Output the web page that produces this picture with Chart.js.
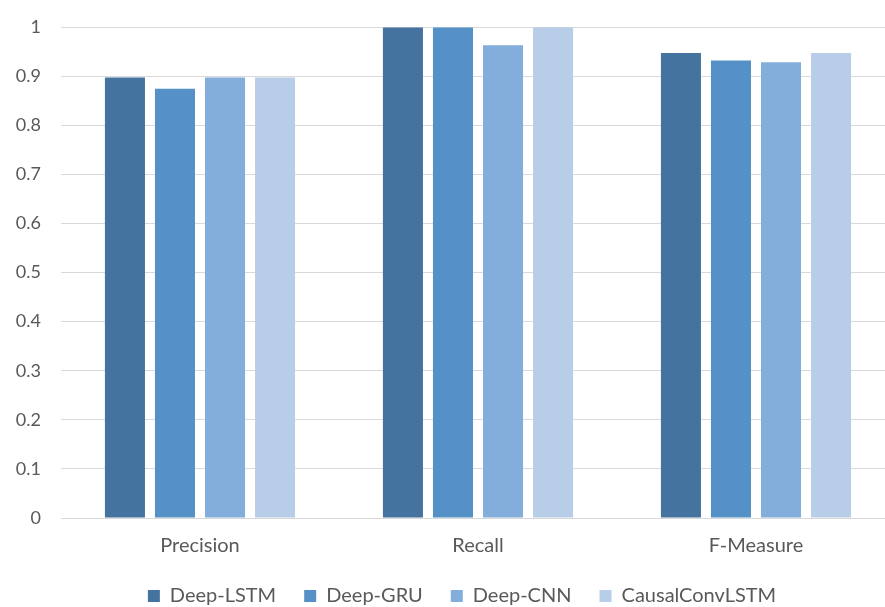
<!DOCTYPE html>
<html>
<head>
<meta charset="utf-8">
<script src="https://cdn.jsdelivr.net/npm/chart.js@4.4.1/dist/chart.umd.min.js"></script>
<style>
  html, body { margin: 0; padding: 0; background: #ffffff; overflow: hidden; }
  #wrap { position: relative; width: 895px; height: 607px; }
</style>
</head>
<body>
<div id="wrap"><canvas id="chart" width="895" height="607"></canvas></div>
<script>
// Metric categories on the x axis
const categories = ['Precision', 'Recall', 'F-Measure'];

// Scores per model, in category order
const deepLSTM = [0.897, 0.999, 0.947];
const deepGRU = [0.874, 0.999, 0.932];
const deepCNN = [0.897, 0.963, 0.928];
const causalConvLSTM = [0.897, 0.999, 0.947];

const seriesNames = ['Deep-LSTM', 'Deep-GRU', 'Deep-CNN', 'CausalConvLSTM'];
const seriesColors = ['#44739F', '#5591C7', '#83AEDB', '#B7CDE8'];

// Value-axis tick labels, 0 to 1 by 0.1
const yTickLabels = ['0', '0.1', '0.2', '0.3', '0.4', '0.5', '0.6', '0.7', '0.8', '0.9', '1'];

const seriesData = [deepLSTM, deepGRU, deepCNN, causalConvLSTM];
const textColor = '#595959';
const gridColor = '#D9D9D9';
const fontFamily = 'Lato, "Open Sans", sans-serif';

// Centre the legend row on the full chart width rather than the canvas
const legendShift = {
  id: 'legendShift',
  afterLayout(chart) {
    if (chart.legend) {
      chart.legend.left = 29;
    }
  }
};

new Chart(document.getElementById('chart'), {
  type: 'bar',
  data: {
    labels: categories,
    datasets: seriesNames.map((name, i) => ({
      label: name,
      data: seriesData[i],
      backgroundColor: seriesColors[i],
      borderWidth: 0,
      categoryPercentage: 0.72,
      barPercentage: 0.8
    }))
  },
  plugins: [legendShift],
  options: {
    responsive: false,
    animation: false,
    layout: { padding: { top: 27, left: 0, right: 0, bottom: -9 } },
    plugins: {
      tooltip: { enabled: false },
      legend: {
        position: 'bottom',
        labels: {
          color: textColor,
          font: { family: fontFamily, size: 20 },
          boxWidth: 12,
          boxHeight: 12,
          padding: 28
        }
      }
    },
    scales: {
      x: {
        afterFit: (axis) => { axis.height = 40; },
        grid: { display: false, drawTicks: false },
        border: { display: true, color: gridColor, width: 1 },
        ticks: {
          color: textColor,
          font: { family: fontFamily, size: 20 },
          padding: 16
        }
      },
      y: {
        min: 0,
        max: 1,
        afterFit: (axis) => {
          axis.width = 61;
          axis.paddingTop = 0;
          axis.paddingBottom = 0;
        },
        grid: { color: gridColor, lineWidth: 1, drawTicks: false },
        border: { display: false },
        ticks: {
          stepSize: 0.1,
          color: textColor,
          font: { family: fontFamily, size: 18 },
          padding: 20,
          callback: (value, index) => yTickLabels[index]
        }
      }
    }
  }
});
</script>
</body>
</html>
